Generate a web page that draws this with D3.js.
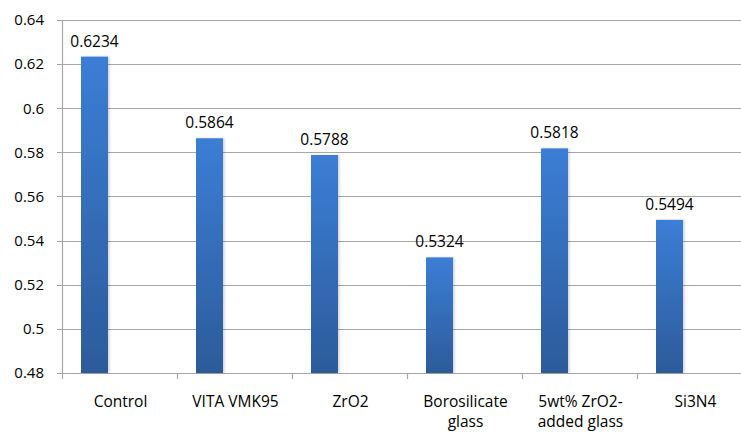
<!DOCTYPE html>
<html>
<head>
<meta charset="utf-8">
<script src="https://cdn.jsdelivr.net/npm/d3@7"></script>
<style>
  html, body { margin: 0; padding: 0; background: #fff; overflow: hidden; }
  svg { display: block; font-family: "Open Sans", sans-serif; }
</style>
</head>
<body>
<svg class="vis" width="741" height="432"></svg>
<script>
const categories = ["Control", "VITA VMK95", "ZrO2", "Borosilicate glass", "5wt% ZrO2-added glass", "Si3N4"];
const labelLines = [["Control"], ["VITA VMK95"], ["ZrO2"], ["Borosilicate", "glass"], ["5wt% ZrO2-", "added glass"], ["Si3N4"]];
const values = [0.6234, 0.5864, 0.5788, 0.5324, 0.5818, 0.5494];
const yTicks = [0.48, 0.5, 0.52, 0.54, 0.56, 0.58, 0.6, 0.62, 0.64];

const dims = { left: 62, right: 752, top: 20, bottom: 373 };

const svg = d3.select("svg.vis");

// gradient + faint shadow like the office chart
const defs = svg.append("defs");
const grad = defs.append("linearGradient")
  .attr("id", "barGrad").attr("x1", 0).attr("y1", 0).attr("x2", 0).attr("y2", 1);
grad.append("stop").attr("offset", "0%").attr("stop-color", "#3b7ed6");
grad.append("stop").attr("offset", "100%").attr("stop-color", "#2c5b9a");
const filt = defs.append("filter").attr("id", "shadow")
  .attr("x", "-20%").attr("y", "-5%").attr("width", "150%").attr("height", "110%");
filt.append("feDropShadow").attr("dx", 1.5).attr("dy", 0).attr("stdDeviation", 1.2)
  .attr("flood-color", "#000").attr("flood-opacity", 0.18);

const x = d3.scaleBand().domain(categories).range([dims.left, dims.right]);
const y = d3.scaleLinear().domain([0.48, 0.64]).range([dims.bottom, dims.top]);

const barOffset = 19, barWidth = 27;

// gridlines
svg.append("g")
  .selectAll("line")
  .data(yTicks)
  .join("line")
  .attr("x1", dims.left - 5)
  .attr("x2", dims.right)
  .attr("y1", d => Math.round(y(d)) + 0.5)
  .attr("y2", d => Math.round(y(d)) + 0.5)
  .attr("stroke", "#a6a6a6")
  .attr("stroke-width", 1.2);

// y axis line
svg.append("line")
  .attr("x1", dims.left + 0.5).attr("x2", dims.left + 0.5)
  .attr("y1", dims.top).attr("y2", dims.bottom + 0.5)
  .attr("stroke", "#a6a6a6").attr("stroke-width", 1.2);

// x category ticks
svg.append("g")
  .selectAll("line")
  .data(categories)
  .join("line")
  .attr("x1", d => Math.round(x(d)) + 0.5)
  .attr("x2", d => Math.round(x(d)) + 0.5)
  .attr("y1", dims.bottom)
  .attr("y2", dims.bottom + 6)
  .attr("stroke", "#a6a6a6")
  .attr("stroke-width", 1.2);

// y tick labels
svg.append("g")
  .selectAll("text")
  .data(yTicks)
  .join("text")
  .attr("x", 44)
  .attr("y", d => y(d))
  .attr("dy", "0.35em")
  .attr("text-anchor", "end")
  .attr("font-size", 15)
  .attr("fill", "#000")
  .text(d => d3.format("")(+d.toFixed(2)));

// bars
svg.append("g")
  .selectAll("rect")
  .data(values)
  .join("rect")
  .attr("x", (d, i) => x(categories[i]) + barOffset)
  .attr("y", d => y(d))
  .attr("width", barWidth)
  .attr("height", d => y(0.48) - y(d))
  .attr("fill", "url(#barGrad)")
  .attr("filter", "url(#shadow)");

// value labels
svg.append("g")
  .selectAll("text")
  .data(values)
  .join("text")
  .attr("x", (d, i) => x(categories[i]) + barOffset + barWidth / 2)
  .attr("y", d => y(d) - 10)
  .attr("text-anchor", "middle")
  .attr("font-size", 15.5)
  .attr("fill", "#000")
  .text(d => d.toFixed(4));

// category labels
const cat = svg.append("g")
  .selectAll("text")
  .data(labelLines)
  .join("text")
  .attr("x", (d, i) => x(categories[i]) + x.bandwidth() / 2 + 1)
  .attr("y", 407)
  .attr("text-anchor", "middle")
  .attr("font-size", 15.5)
  .attr("fill", "#000");

cat.selectAll("tspan")
  .data(d => d)
  .join("tspan")
  .attr("x", function() { return this.parentNode.getAttribute("x"); })
  .attr("dy", (d, i) => i === 0 ? 0 : 20)
  .text(d => d);
</script>
</body>
</html>
